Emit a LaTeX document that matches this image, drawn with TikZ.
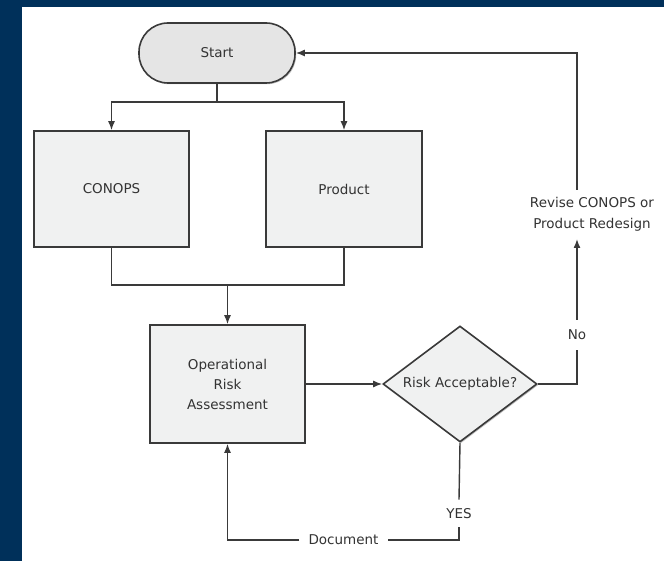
\documentclass[tikz,border=0pt]{standalone}
\usepackage{fontspec}
\setmainfont{DejaVu Sans}
\usetikzlibrary{arrows.meta,shapes.geometric,shadows}
\definecolor{navy}{HTML}{00305A}
\definecolor{boxfill}{HTML}{F0F1F1}
\definecolor{startfill}{HTML}{E5E5E5}
\definecolor{linec}{HTML}{3A3A3A}
\definecolor{txt}{HTML}{333333}
\tikzset{
  base/.style={draw=linec, line width=1.6pt, text=txt, font=\fontsize{13.5}{20}\selectfont,
    drop shadow={shadow xshift=1.2pt, shadow yshift=-1.2pt, opacity=0.25, fill=black}},
  procbox/.style={base, rectangle, fill=boxfill, inner sep=0pt, align=center},
  startbox/.style={base, rectangle, rounded corners=29pt, fill=startfill, minimum width=156pt, minimum height=60pt},
  decbox/.style={base, diamond, shape aspect=1.33, fill=boxfill, inner sep=0pt, minimum width=154pt, minimum height=116pt},
  lbl/.style={text=txt, font=\fontsize{13.5}{21}\selectfont, inner sep=0pt, align=center},
  conn/.style={draw=linec, line width=1.4pt},
  arr/.style={conn, -{Latex[length=9pt,width=7pt]}}
}
\begin{document}
\begin{tikzpicture}[x=1pt,y=-1pt]
\useasboundingbox (0,0) rectangle (664,561);
\fill[navy] (0,0) rectangle (664,561);
\fill[white] (22,7) rectangle (664,561);

\node[startbox] (start) at (217,53) {Start};
\node[procbox, minimum width=155pt, minimum height=116pt] (conops) at (111.5,189) {CONOPS};
\node[procbox, minimum width=156pt, minimum height=116pt] (product) at (344,189) {Product};
\node[procbox, minimum width=155pt, minimum height=118pt] (ora) at (227.5,384) {Operational\\Risk\\Assessment};
\node[decbox] (risk) at (460,384) {Risk Acceptable?};

\node[lbl] (revise) at (592,214.5) {Revise CONOPS or\\Product Redesign};
\node[lbl, inner ysep=10pt] (no) at (577,335) {No};
\node[lbl, inner ysep=8.5pt] (yes) at (459,513.5) {YES};
\node[lbl, inner xsep=9pt] (doc) at (343.5,540) {Document};

\coordinate (split) at (217,102);
\coordinate (merge) at (227.5,285);
\coordinate (revB) at (577,239);
\coordinate (revT) at (577,190);

\draw[conn] (start.south) -- (split);
\draw[arr] (split) -| (conops.north);
\draw[arr] (split) -| (product.north);
\draw[conn] (conops.south) |- (merge);
\draw[conn] (product.south) |- (merge);
\draw[arr] (merge) -- (ora.north);
\draw[arr] (ora.east) -- (risk.west);
\draw[conn] (risk.east) -| (no.south);
\draw[arr] (no.north) -- (revB);
\draw[arr] (revT) |- (start.east);
\draw[conn] (risk.south) -- (yes.north);
\draw[conn] (yes.south) |- (doc.east);
\draw[arr] (doc.west) -| (ora.south);
\end{tikzpicture}
\end{document}
